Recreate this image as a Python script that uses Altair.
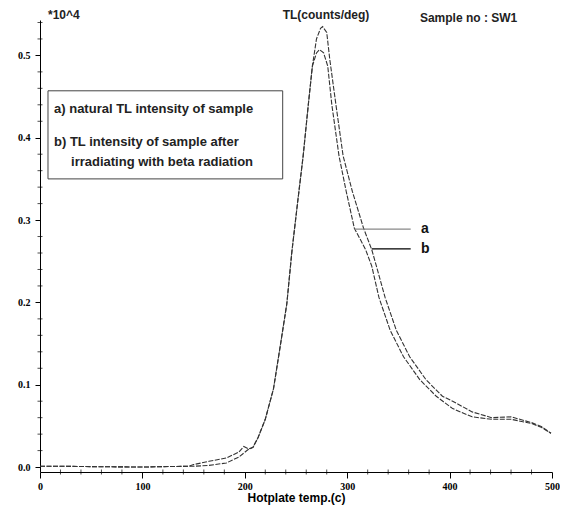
import altair as alt
import pandas as pd

# Shared baseline and rising edge (both curves coincide)
shared_x = [0, 20, 50, 100, 120, 145]
shared_y = [0.001, 0.001, 0.0005, 0.0, 0.0005, 0.001]
rise_x = [213, 220, 228, 235, 241, 246, 252, 257, 262, 266]
rise_y = [0.036, 0.058, 0.095, 0.150, 0.198, 0.262, 0.326, 0.378, 0.440, 0.487]

# curve a: natural TL (inner, lower peak)
a_low_x = [150, 165, 182, 194, 203, 208]
a_low_y = [0.001, 0.002, 0.005, 0.012, 0.021, 0.024]
a_top_x = [270, 273, 277, 281, 285, 292, 299, 307, 313, 318, 324, 331, 342, 355, 371, 387, 403, 422, 441, 460, 480, 490, 499]
a_top_y = [0.503, 0.507, 0.503, 0.487, 0.440, 0.378, 0.335, 0.290, 0.276, 0.264, 0.244, 0.206, 0.166, 0.134, 0.106, 0.086, 0.071, 0.061, 0.058, 0.058, 0.053, 0.048, 0.041]

# curve b: after beta irradiation (outer, higher peak)
b_low_x = [150, 165, 182, 194, 199, 204, 208]
b_low_y = [0.003, 0.007, 0.011, 0.018, 0.025, 0.022, 0.024]
b_top_x = [270, 274, 276, 280, 283, 289, 296, 305, 316, 324, 329, 337, 348, 361, 377, 393, 403, 422, 441, 460, 480, 490, 499]
b_top_y = [0.520, 0.533, 0.535, 0.528, 0.495, 0.440, 0.378, 0.335, 0.290, 0.264, 0.242, 0.206, 0.166, 0.134, 0.106, 0.086, 0.080, 0.067, 0.060, 0.061, 0.054, 0.049, 0.041]

x_major = [0, 100, 200, 300, 400, 500]
y_major = [0.0, 0.1, 0.2, 0.3, 0.4, 0.5]
x_minor = [v for v in range(20, 500, 20) if v % 100 != 0]
y_minor = [round(i * 0.02, 2) for i in range(1, 28) if i % 5 != 0]

rows = []
for name, lx, ly, tx, ty in [("a", a_low_x, a_low_y, a_top_x, a_top_y),
                             ("b", b_low_x, b_low_y, b_top_x, b_top_y)]:
    xs_ = shared_x + lx + rise_x + tx
    ys_ = shared_y + ly + rise_y + ty
    for i, (xv, yv) in enumerate(zip(xs_, ys_)):
        rows.append({"series": name, "order": i, "temp": xv, "tl": yv})
df = pd.DataFrame(rows)

xs = alt.Scale(domain=[0, 500], nice=False, zero=False)
ys = alt.Scale(domain=[-0.006, 0.543], nice=False, zero=False)

x_axis = alt.Axis(
    values=x_major, title="Hotplate temp.(c)", tickSize=6,
    labelFont="Liberation Serif", labelFontWeight="bold", labelFontSize=10,
    labelPadding=3, labelOverlap=False, titleFont="Liberation Sans", titleFontWeight="bold",
    titleFontSize=12, titlePadding=1, grid=False, domainColor="black",
    tickColor="black", labelColor="black", titleColor="black", labelFlush=False,
)
y_axis = alt.Axis(
    values=y_major, title=None, format=".1f", tickSize=5, labelOverlap=False,
    labelFont="Liberation Serif", labelFontWeight="bold", labelFontSize=10,
    labelPadding=5, grid=False, domainColor="black", tickColor="black",
    labelColor="black", labelFlush=False,
)

lines = alt.Chart(df).mark_line(color="#333333", strokeWidth=1.1, strokeDash=[5, 1.5]).encode(
    x=alt.X("temp:Q", scale=xs, axis=x_axis),
    y=alt.Y("tl:Q", scale=ys, axis=y_axis),
    detail="series:N",
    order="order:Q",
)

# minor ticks on the axes
xmin_df = pd.DataFrame({"v": x_minor})
xminor = alt.Chart(xmin_df).mark_tick(orient="vertical", size=5, thickness=1, color="black").encode(
    x=alt.X("v:Q", scale=xs), y=alt.value(452)
)
ymin_df = pd.DataFrame({"v": y_minor})
yminor = alt.Chart(ymin_df).mark_tick(orient="horizontal", size=5, thickness=1, color="black").encode(
    y=alt.Y("v:Q", scale=ys), x=alt.value(0)
)

# Legend box
box_df = pd.DataFrame({"x1": [7.8], "x2": [237], "y1": [0.350], "y2": [0.457]})
box = alt.Chart(box_df).mark_rect(fill="white", stroke="#444444", strokeWidth=1).encode(
    x=alt.X("x1:Q", scale=xs), x2="x2", y=alt.Y("y1:Q", scale=ys), y2="y2"
)

legend_text = ["a) natural TL intensity of sample", "b) TL intensity of sample after", "irradiating with beta radiation"]
legend_df = pd.DataFrame({"t": legend_text, "x": [13.7, 13.7, 30.3], "y": [0.435, 0.395, 0.370]})
legend = alt.Chart(legend_df).mark_text(
    align="left", baseline="middle", font="Liberation Sans", fontWeight="bold",
    fontSize=13, color="#222222"
).encode(x=alt.X("x:Q", scale=xs), y=alt.Y("y:Q", scale=ys), text="t:N")

# Header texts
head_df = pd.DataFrame({"t": ["*10^4", "TL(counts/deg)", "Sample no : SW1"],
                        "x": [7.8, 237, 371], "y": [0.549, 0.549, 0.545]})
head = alt.Chart(head_df).mark_text(
    align="left", baseline="middle", font="Liberation Sans", fontWeight="bold",
    fontSize=12, color="#222222"
).encode(x=alt.X("x:Q", scale=xs), y=alt.Y("y:Q", scale=ys), text="t:N")

# Pointer lines and labels a / b
ptr_df = pd.DataFrame({"lab": ["a", "b"], "x1": [307, 324], "x2": [362, 362],
                       "y": [0.289, 0.265], "c": ["#888888", "#000000"]})
ptr = alt.Chart(ptr_df).mark_rule(strokeWidth=1.3).encode(
    x=alt.X("x1:Q", scale=xs), x2="x2", y=alt.Y("y:Q", scale=ys),
    color=alt.Color("c:N", scale=None)
)
ptr_lab = alt.Chart(ptr_df).mark_text(
    align="left", baseline="middle", font="Liberation Sans", fontSize=14,
    fontWeight="bold", color="#111111"
).encode(x=alt.value(381), y=alt.Y("y:Q", scale=ys), text="lab:N")

chart = alt.layer(lines, xminor, yminor, box, legend, head, ptr, ptr_lab).properties(
    width=512, height=452,
    autosize=alt.AutoSizeParams(type="none"),
    padding={"left": 32, "top": 12, "right": 8, "bottom": 34},
    background="white",
).configure_view(stroke=None)

chart.save("out.html", embed_options={"renderer": "svg", "actions": False})
